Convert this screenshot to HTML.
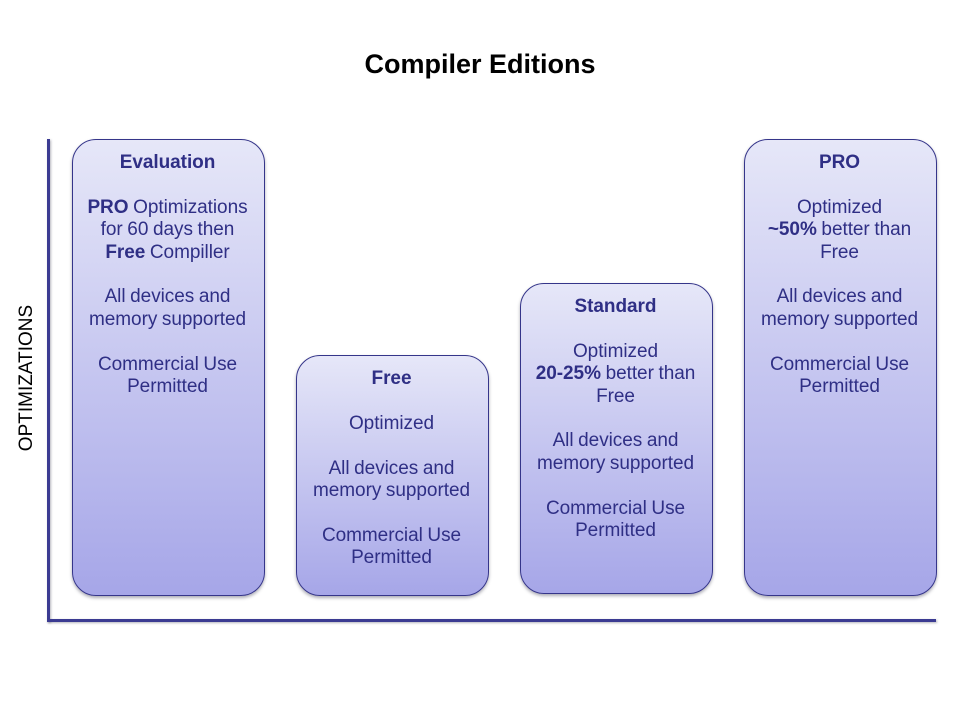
<!DOCTYPE html>
<html>
<head>
<meta charset="utf-8">
<style>
html,body{margin:0;padding:0;background:#fff;}
#p{position:relative;width:960px;height:720px;overflow:hidden;background:#fff;font-family:"Liberation Sans",sans-serif;}
.t{position:absolute;left:0;top:47px;width:960px;text-align:center;font-size:27px;line-height:34px;font-weight:bold;color:#000;}
.b{position:absolute;box-sizing:border-box;width:193px;border:1px solid #35358a;border-radius:24px;background:linear-gradient(#e6e7f8,#a6a6e8);box-shadow:0 2px 3px rgba(70,70,90,.45);color:#2f2f85;text-align:center;font-size:19px;line-height:22.4px;padding:12px 2px 0 0;letter-spacing:-0.05px;word-spacing:-0.6px;}
.b p{margin:0;height:22.4px;white-space:nowrap;}
.b b{font-weight:bold;}
.ax{position:absolute;background:#3b3b92;box-shadow:1px 1px 2px rgba(70,70,90,.4);}
.y{position:absolute;left:-73px;top:367px;width:200px;height:22px;line-height:22px;text-align:center;font-size:19px;color:#000;transform:rotate(-90deg);white-space:nowrap;}
</style>
</head>
<body>
<div id="p">
<div class="t">Compiler Editions</div>
<div class="ax" style="left:47px;top:139px;width:3px;height:483px;"></div>
<div class="ax" style="left:47px;top:619px;width:889px;height:3px;"></div>
<div class="y">OPTIMIZATIONS</div>

<div class="b" style="left:72px;top:139px;height:457px;">
<p><b>Evaluation</b></p><p></p>
<p><b>PRO</b> Optimizations</p><p>for 60 days then</p><p><b>Free</b> Compiller</p><p></p>
<p>All devices and</p><p>memory supported</p><p></p>
<p>Commercial Use</p><p>Permitted</p>
</div>

<div class="b" style="left:296px;top:355px;height:241px;">
<p><b>Free</b></p><p></p>
<p>Optimized</p><p></p>
<p>All devices and</p><p>memory supported</p><p></p>
<p>Commercial Use</p><p>Permitted</p>
</div>

<div class="b" style="left:520px;top:283px;height:311px;">
<p><b>Standard</b></p><p></p>
<p>Optimized</p><p><b>20-25%</b> better than</p><p>Free</p><p></p>
<p>All devices and</p><p>memory supported</p><p></p>
<p>Commercial Use</p><p>Permitted</p>
</div>

<div class="b" style="left:744px;top:139px;height:457px;">
<p><b>PRO</b></p><p></p>
<p>Optimized</p><p><b>~50%</b> better than</p><p>Free</p><p></p>
<p>All devices and</p><p>memory supported</p><p></p>
<p>Commercial Use</p><p>Permitted</p>
</div>
</div>
</body>
</html>
